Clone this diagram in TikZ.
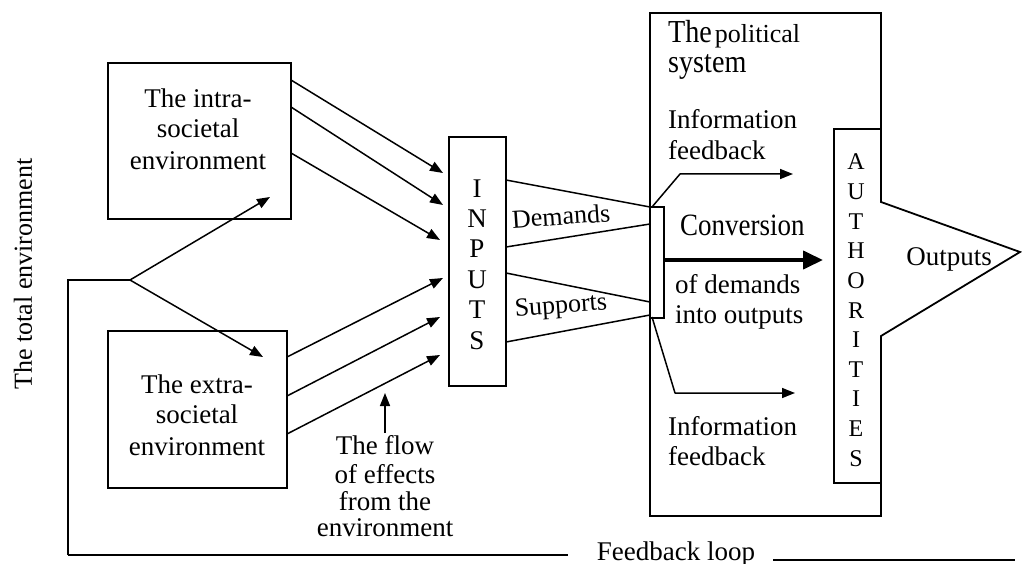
\documentclass[tikz,border=0pt]{standalone}
\usepackage{fontspec}
\setmainfont{Liberation Serif}
\usetikzlibrary{arrows.meta}
\newcommand\txtsize[1]{\fontsize{#1pt}{#1pt}\selectfont}
\tikzset{
  line/.style={line width=1.5pt},
  arr/.style={line width=1.5pt, -{Triangle[length=13pt,width=10pt]}},
  bigarr/.style={line width=4pt, -{Triangle[length=20pt,width=18pt]}},
  box/.style={draw, line width=1.8pt, inner sep=0pt},
  frame/.style={line width=1.8pt, line join=miter},
  lbl/.style={inner sep=0pt, font=\txtsize{27}},
  letter/.style={inner sep=0pt, font=\txtsize{27}},
  aletter/.style={inner sep=0pt, font=\txtsize{24}},
}

\begin{document}
\begin{tikzpicture}[x=1pt,y=-1pt]
\useasboundingbox (0,0) rectangle (1022,564);

% ---------- environment boxes ----------
\node[box, minimum width=183pt, minimum height=156pt] (intra) at (199.5,141) {};
\node[lbl, anchor=base] (intra1) at (198,108) {The intra-};
\node[lbl, anchor=base] (intra2) at (198,138) {societal};
\node[lbl, anchor=base] (intra3) at (198,170) {environment};

\node[box, minimum width=179pt, minimum height=157pt] (extra) at (197.5,409.5) {};
\node[lbl, anchor=base] (extra1) at (197,393) {The extra-};
\node[lbl, anchor=base] (extra2) at (197,423) {societal};
\node[lbl, anchor=base] (extra3) at (197,455) {environment};

% ---------- inputs column ----------
\node[box, minimum width=57pt, minimum height=249pt] (inputs) at (477.5,261.5) {};
\foreach \c [count=\i from 0] in {I,N,P,U,T,S}
  \node[letter, anchor=base] (in\i) at (477,197+30.4*\i) {\c};

% ---------- total environment and the fork ----------
\node[inner sep=0pt, rotate=90, font=\txtsize{26}] (total) at (23,274) {The total environment};

\coordinate (fork) at (130,280);
\coordinate (corner) at (68,280);
\coordinate (loopbl) at (68,555);
\coordinate (loopl) at (568,555);
\coordinate (loopr1) at (773,560);
\coordinate (loopr2) at (1015,560);
\coordinate (tointra) at (270,197);
\coordinate (toextra) at (263,357);

\draw[line] (loopbl) -- (corner) -- (fork);
\draw[arr] (fork) -- (tointra);
\draw[arr] (fork) -- (toextra);
\draw[line] (loopbl) -- (loopl);
\draw[line] (loopr1) -- (loopr2);
\node[lbl, anchor=base] (loop) at (676,560) {Feedback loop};

% ---------- flows from the environment ----------
\coordinate (ia1) at (291,80);   \coordinate (it1) at (443,173);
\coordinate (ia2) at (291,107);  \coordinate (it2) at (443,205);
\coordinate (ia3) at (291,153);  \coordinate (it3) at (440,240);
\coordinate (ea1) at (287,357);  \coordinate (et1) at (443,278);
\coordinate (ea2) at (287,396);  \coordinate (et2) at (440,317);
\coordinate (ea3) at (287,434);  \coordinate (et3) at (440,355);
\foreach \k in {1,2,3} {
  \draw[arr] (ia\k) -- (it\k);
  \draw[arr] (ea\k) -- (et\k);
}

\coordinate (flowfoot) at (385,433);
\coordinate (flowhead) at (385,393);
\draw[arr] (flowfoot) -- (flowhead);
\node[lbl, anchor=base] (flow1) at (385,454) {The flow};
\node[lbl, anchor=base] (flow2) at (385,483) {of effects};
\node[lbl, anchor=base] (flow3) at (385,510) {from the};
\node[lbl, anchor=base] (flow4) at (385,536) {environment};

% ---------- the political system ----------
\draw[frame] (650,13) -- (881,13) -- (881,202) -- (1020,252) -- (881,336)
  -- (881,516) -- (650,516) -- cycle;
\node[inner sep=0pt, anchor=base west] (pol1) at (668,43)
  {\txtsize{32}\scalebox{.88}[1]{The}\hspace{3pt}\txtsize{26}political};
\node[inner sep=0pt, anchor=base west] (pol2) at (668,73)
  {\txtsize{32}\scalebox{.88}[1]{system}};

% authorities column, open towards the outputs
\draw[frame] (881,129) -- (834,129) -- (834,483) -- (881,483);
\foreach \c [count=\i from 0] in {A,U,T,H,O,R,I,T,I,E,S}
  \node[aletter, anchor=base] (au\i) at (856,170+29.6*\i) {\c};
\node[lbl, anchor=base] (outputs) at (949,265) {Outputs};

% conversion entry bar
\draw[frame] (650,207) -- (664,207) -- (664,318) -- (650,318);

% demands and supports
\coordinate (d1) at (506,180);  \coordinate (d1e) at (650,207);
\coordinate (d2) at (506,247);  \coordinate (d2e) at (650,224);
\coordinate (s1) at (506,273);  \coordinate (s1e) at (650,302);
\coordinate (s2) at (506,342);  \coordinate (s2e) at (650,315);
\draw[line] (d1) -- (d1e);
\draw[line] (d2) -- (d2e);
\draw[line] (s1) -- (s1e);
\draw[line] (s2) -- (s2e);
\node[lbl, font=\txtsize{26}, rotate=4] (demands) at (561,216) {Demands};
\node[lbl, font=\txtsize{26}, rotate=4] (supports) at (561,307) {Supports};

% information feedback
\coordinate (fbu0) at (652,207); \coordinate (fbu1) at (680,174); \coordinate (fbu2) at (793,174);
\coordinate (fbl0) at (652,317); \coordinate (fbl1) at (675,393); \coordinate (fbl2) at (795,393);
\draw[arr, line join=round] (fbu0) -- (fbu1) -- (fbu2);
\draw[arr, line join=round] (fbl0) -- (fbl1) -- (fbl2);
\node[lbl, anchor=base west] (infou1) at (668,129) {Information};
\node[lbl, anchor=base west] (infou2) at (668,160) {feedback};
\node[lbl, anchor=base west] (infol1) at (668,435) {Information};
\node[lbl, anchor=base west] (infol2) at (668,465) {feedback};

% conversion
\coordinate (conv0) at (664,260);
\coordinate (conv1) at (823,260);
\draw[bigarr] (conv0) -- (conv1);
\node[inner sep=0pt, anchor=base west] (conv) at (680,235)
  {\txtsize{31}\scalebox{.87}[1]{Conversion}};
\node[lbl, anchor=base west] (conv2) at (675,293) {of demands};
\node[lbl, anchor=base west] (conv3) at (675,323) {into outputs};

\end{tikzpicture}
\end{document}
